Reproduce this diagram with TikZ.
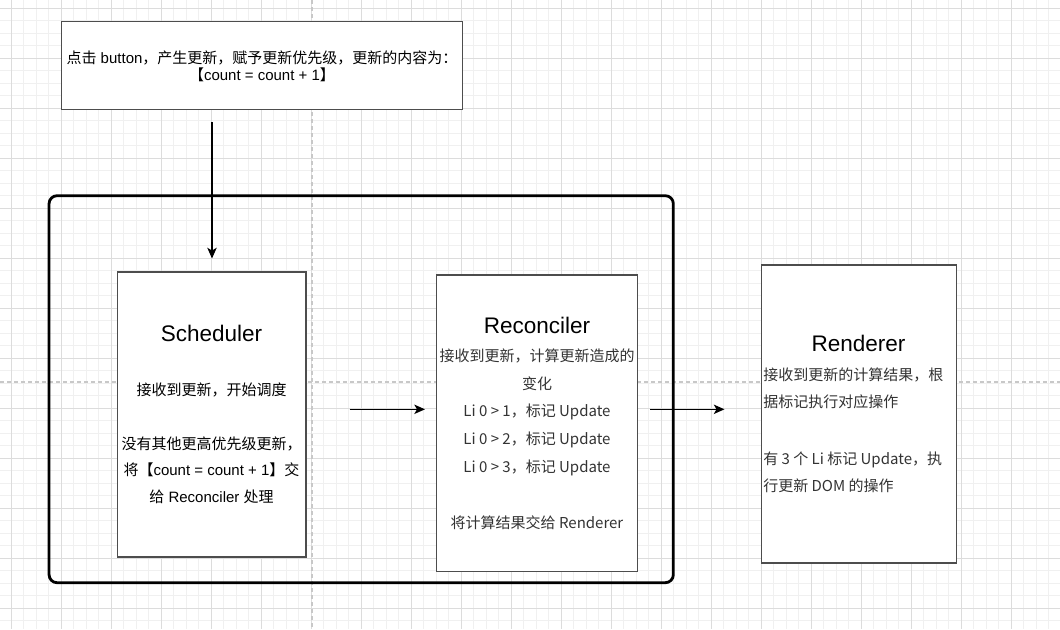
\documentclass[tikz,border=0pt]{standalone}
\usepackage{fontspec}
\setmainfont{Liberation Sans}
\newfontfamily\cjk{Noto Sans CJK SC}
\usetikzlibrary{arrows.meta}
\definecolor{gridminor}{RGB}{240,240,240}
\definecolor{gridmajor}{RGB}{220,220,220}
\definecolor{guide}{RGB}{200,200,200}
\definecolor{boxline}{RGB}{77,77,77}
\definecolor{txtgray}{RGB}{51,51,51}
\tikzset{
  boxnode/.style={draw=boxline, line width=1.1pt, fill=white, inner sep=0pt, rectangle},
  container/.style={draw=black, line width=2.1pt, rounded corners=6pt, inner sep=0pt, rectangle},
  arr/.style={-{Stealth[length=8pt,width=7pt,inset=2pt]}, line width=1.1pt, black},
  ln/.style={anchor=base, inner sep=0pt, font=\fontsize{11.25}{13}\selectfont},
  lnl/.style={anchor=base west, inner sep=0pt, font=\fontsize{11.25}{13}\selectfont},
  ttl/.style={anchor=base, inner sep=0pt, font=\fontsize{16.9}{20}\selectfont},
  guideline/.style={draw=guide, line width=1.1pt, dash pattern=on 3pt off 2.25pt}
}
\begin{document}
\begin{tikzpicture}[x=0.75pt, y=-0.75pt]
\useasboundingbox (0,0) rectangle (1060,629);
\fill[white] (0,0) rectangle (1060,629);
% grid
\foreach \k in {0,...,83} {
  \pgfmathsetmacro{\xx}{11.3+12.5*\k}
  \draw[gridminor, line width=0.75pt] (\xx,0) -- (\xx,629);
}
\foreach \k in {0,...,49} {
  \pgfmathsetmacro{\yy}{8.3+12.5*\k}
  \draw[gridminor, line width=0.75pt] (0,\yy) -- (1060,\yy);
}
\foreach \k in {0,...,20} {
  \pgfmathsetmacro{\xx}{11.3+50*\k}
  \draw[gridmajor, line width=0.75pt] (\xx,0) -- (\xx,629);
}
\foreach \k in {0,...,12} {
  \pgfmathsetmacro{\yy}{8.3+50*\k}
  \draw[gridmajor, line width=0.75pt] (0,\yy) -- (1060,\yy);
}
% guides
\draw[guideline] (312,0) -- (312,629);
\draw[guideline] (0,382) -- (1060,382);

% container
\node[container, minimum width=468.2pt, minimum height=290.25pt] (group) at (361.2,389.2) {};

% boxes
\node[boxnode, minimum width=300.7pt, minimum height=65.7pt] (top) at (262.2,65.5) {};
\node[boxnode, minimum width=141.2pt, minimum height=213.9pt] (sched) at (211.8,414.6) {};
\node[boxnode, minimum width=150.5pt, minimum height=222.5pt] (recon) at (537,423.3) {};
\node[boxnode, minimum width=146.3pt, minimum height=223.5pt] (rend) at (859.2,414.2) {};

% top text
\node[ln] (t1) at (262,63) {{\cjk 点击} button{\cjk ，产生更新，赋予更新优先级，更新的内容为：}};
\node[ln] (t2) at (262,80) {{\cjk 【}count = count + 1{\cjk 】}};

% scheduler text
\node[ttl] (s0) at (211.5,341.5) {Scheduler};
\node[ln] (s1) at (211.5,395) {\cjk 接收到更新，开始调度};
\node[ln] (s2) at (211.5,449) {\cjk 没有其他更高优先级更新，};
\node[ln] (s3) at (211.5,475.5) {{\cjk 将【}count = count + 1{\cjk 】交}};
\node[ln] (s4) at (211.5,502) {{\cjk 给} Reconciler {\cjk 处理}};

% reconciler text
\node[ttl] (r0) at (537,333.5) {Reconciler};
\node[ln, text=txtgray] (r1) at (537,361) {\cjk 接收到更新，计算更新造成的};
\node[ln, text=txtgray] (r2) at (537,389) {\cjk 变化};
\node[ln, text=txtgray] (r3) at (537,416) {\cjk Li 0 > 1，标记 Update};
\node[ln, text=txtgray] (r4) at (537,444) {\cjk Li 0 > 2，标记 Update};
\node[ln, text=txtgray] (r5) at (537,472) {\cjk Li 0 > 3，标记 Update};
\node[ln, text=txtgray] (r6) at (537,528) {\cjk 将计算结果交给 Renderer};

% renderer text
\node[ttl] (n0) at (858.5,351.5) {Renderer};
\node[lnl, text=txtgray] (n1) at (763,380) {\cjk 接收到更新的计算结果，根};
\node[lnl, text=txtgray] (n2) at (763,407.5) {\cjk 据标记执行对应操作};
\node[lnl, text=txtgray] (n3) at (763,464) {\cjk 有 3 个 Li 标记 Update，执};
\node[lnl, text=txtgray] (n4) at (763,491.5) {\cjk 行更新 DOM 的操作};

% arrows
\coordinate (a1s) at (212,122);
\coordinate (a1e) at (212,258.5);
\coordinate (a2s) at (349.5,409.3);
\coordinate (a2e) at (425,409.3);
\coordinate (a3s) at (650,409.3);
\coordinate (a3e) at (724.5,409.3);
\draw[arr] (a1s) -- (a1e);
\draw[arr] (a2s) -- (a2e);
\draw[arr] (a3s) -- (a3e);
\end{tikzpicture}
\end{document}
